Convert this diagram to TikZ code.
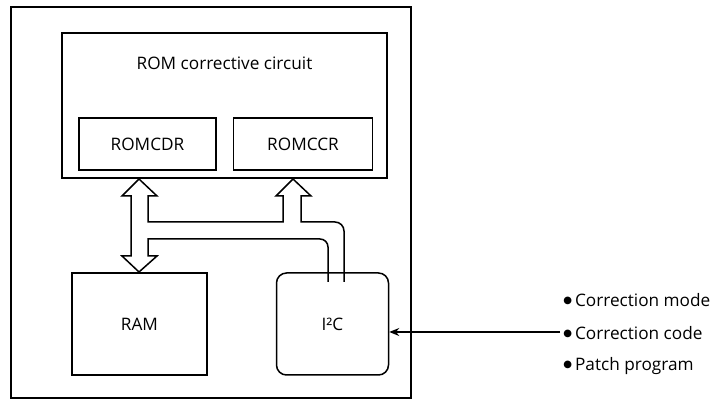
\documentclass[tikz,border=0pt]{standalone}
\usepackage{fontspec}
\setmainfont{Open Sans}
\newfontfamily\symfont{DejaVu Sans}
\usetikzlibrary{positioning,arrows.meta}
\newcommand{\dotmark}{\raisebox{1.3pt}{\symfont\fontsize{5}{6}\selectfont ●}\hspace{1.5pt}}
\tikzset{
  frame/.style={draw, line width=0.75pt, inner sep=0pt},
  unit/.style={draw, line width=0.75pt, align=center, inner sep=0pt, font=\fontsize{8.6}{10}\selectfont},
  bus/.style={draw, line width=0.75pt, line join=miter},
  sig/.style={-{Stealth[length=5pt,width=4pt]}, line width=0.75pt},
  item/.style={anchor=west, inner sep=0pt, font=\fontsize{8.6}{10}\selectfont}
}

\begin{document}
\begin{tikzpicture}[x=0.5pt,y=-0.5pt]
  \useasboundingbox (0,0) rectangle (713,400);
  % outer board and ROM block
  \node[frame, minimum width=200pt, minimum height=195.5pt] (board) at (211,202.5) {};
  \node[frame, minimum width=162.5pt, minimum height=72.5pt] (rom) at (224.5,105.5) {};
  \node[item, anchor=center] (romtitle) at (224.5,63) {ROM corrective circuit};
  \node[unit, minimum width=68.5pt, minimum height=26pt] (cdr) at (147.5,144) {ROMCDR};
  \node[unit, minimum width=69.5pt, minimum height=26pt, right=8pt of cdr] (ccr) {ROMCCR};
  % lower blocks
  \node[unit, minimum width=67.5pt, minimum height=51pt] (ram) at (139.5,324) {RAM};
  \node[unit, rounded corners=5pt, minimum width=56pt, minimum height=51pt, right=34pt of ram] (iic) {I²C};
  % hollow bus
  \draw[bus] (328,282) -- (328,247) to[out=90,in=0] (320,239) -- (148,239) -- (148,256)
    -- (157,256) -- (139,272) -- (122,256) -- (131,256) -- (131,196) -- (122,196)
    -- (139,179) -- (157,196) -- (148,196) -- (148,222) -- (283,222) -- (283,196)
    -- (276,196) -- (293,179) -- (311,196) -- (301,196) -- (301,222) -- (335,222)
    to[out=0,in=90] (344,231) -- (344,282);
  % external inputs
  \coordinate (feed) at (560,332);
  \draw[sig] (feed) -- (feed -| iic.east);
  \node[item] (mode) at (563,300) {\dotmark Correction mode};
  \node[item] (code) at (563,333) {\dotmark Correction code};
  \node[item] (patch) at (563,366) {\dotmark Patch program};
\end{tikzpicture}
\end{document}
